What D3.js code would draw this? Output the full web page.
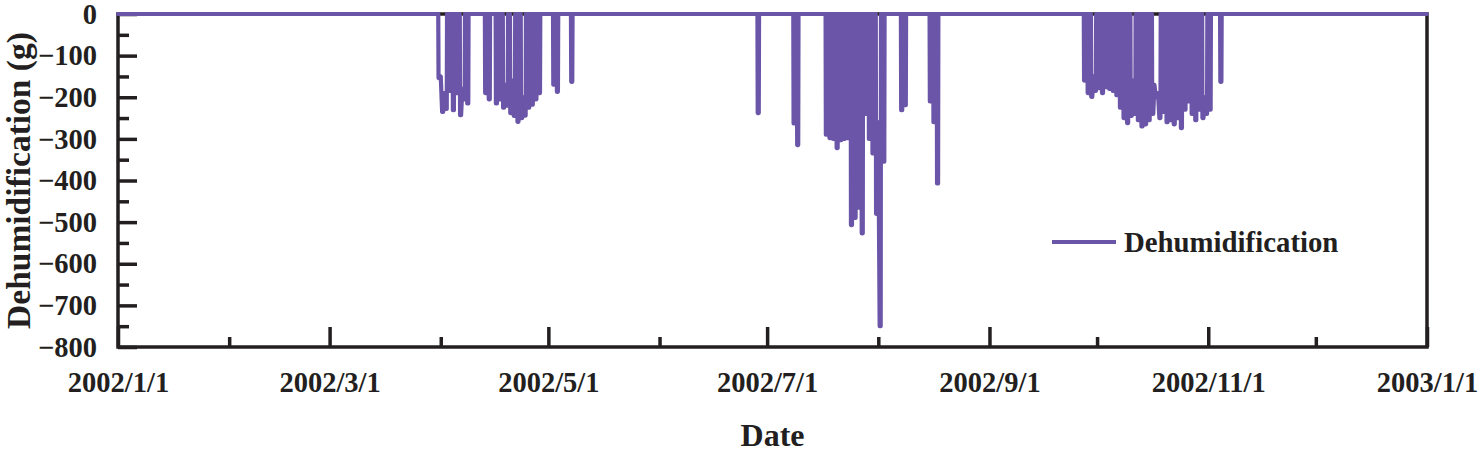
<!DOCTYPE html>
<html>
<head>
<meta charset="utf-8">
<script src="https://cdn.jsdelivr.net/npm/d3@7"></script>
<style>
  body { margin: 0; background: #fff; }
  text { font-family: "Liberation Serif", "Times New Roman", serif; font-weight: bold; fill: #231f20; }
</style>
</head>
<body>
<svg id="chart" width="1478" height="454"></svg>
<script>
// daily dehumidification peaks (g), one value per day from the start date, 0 = off
var springStart = "2002-03-31";
var springValues = [-154, -235, -228, -185, -231, -190, -243, -205, -215, 0, 0, 0, 0, -190, -205, 0,
  -215, -205, -225, -220, -238, -245, -259, -250, -244, -225, -218, -205, -190, 0, 0, 0, -170, -187, 0, 0, 0, -163];

var summerStart = "2002-06-28";
var summerValues = [-238, 0, 0, 0, 0, 0, 0, 0, 0, 0, -263, -315, 0, 0, 0, 0, 0, 0, 0,
  -290, -298, -300, -322, -303, -300, -298, -507, -490, -465, -527, -240, -300, -335, -480, -750, -355,
  0, 0, 0, 0, -231, -219, 0, 0, 0, 0, 0, 0, -210, -260, -407];

var autumnStart = "2002-09-27";
var autumnValues = [-160, -190, -199, -185, -178, -190, -176, -180, -185, -195, -225, -250, -262, -245,
  -240, -255, -270, -265, -255, -240, -200, -250, -235, -260, -255, -265, -250, -274, -230, -210,
  -240, -255, -230, -250, -240, -230, 0, 0, -163];

// nights when the unit kept running (line does not go back to 0)
var nightDates = ["2002-03-31", "2002-04-01", "2002-04-06", "2002-04-18", "2002-04-20", "2002-04-23",
  "2002-07-31", "2002-09-29", "2002-10-10", "2002-10-16", "2002-10-17", "2002-10-30"];
var nightValues = [-150, -190, -180, -170, -160, -200, -260, -150, -160, -170, -190, -200];

var xTickLabels = ["2002/1/1", "2002/3/1", "2002/5/1", "2002/7/1", "2002/9/1", "2002/11/1", "2003/1/1"];
var yTicks = [0, -100, -200, -300, -400, -500, -600, -700, -800];
var yMinorTicks = [-50, -150, -250, -350, -450, -550, -650, -750];

var purple = "#6a55a8";
var ink = "#231f20";

var svg = d3.select("#chart");
var plotLeft = 118, plotRight = 1427, plotTop = 14, plotBottom = 347;

var parseDay = d3.utcParse("%Y-%m-%d");
var parseTick = d3.utcParse("%Y/%m/%d");
var fmtDay = d3.utcFormat("%Y-%m-%d");

var majorDates = xTickLabels.map(parseTick);
var minorDates = d3.utcMonth.range(majorDates[0], majorDates[majorDates.length - 1])
  .filter(function(d) { return d.getUTCMonth() % 2 === 1; });

var x = d3.scaleUtc()
  .domain([majorDates[0], majorDates[majorDates.length - 1]])
  .range([plotLeft, plotRight]);

var y = d3.scaleLinear()
  .domain([-800, 0])
  .range([plotBottom, plotTop]);

var nightMap = new Map();
nightDates.forEach(function(d, i) { nightMap.set(d, nightValues[i]); });

function dayAt(start, offset) {
  return new Date(+start + offset * 864e5);
}

var seasons = [
  { start: springStart, values: springValues },
  { start: summerStart, values: summerValues },
  { start: autumnStart, values: autumnValues }
];

var points = [[x.domain()[0], 0]];
seasons.forEach(function(s) {
  var start = parseDay(s.start);
  var running = false;
  s.values.forEach(function(v, i) {
    if (v === 0) return;
    var key = fmtDay(dayAt(start, i));
    if (!running) points.push([dayAt(start, i + 0.3), 0]);
    points.push([dayAt(start, i + 0.38), v]);
    points.push([dayAt(start, i + 0.67), v]);
    if (nightMap.has(key)) {
      points.push([dayAt(start, i + 1), nightMap.get(key)]);
      running = true;
    } else {
      points.push([dayAt(start, i + 0.75), 0]);
      running = false;
    }
  });
});
points.push([x.domain()[1], 0]);

// frame
svg.append("rect")
  .attr("x", plotLeft).attr("y", plotTop)
  .attr("width", plotRight - plotLeft).attr("height", plotBottom - plotTop)
  .attr("fill", "none").attr("stroke", ink).attr("stroke-width", 3.5);

// axes, ticks pointing inside
svg.append("g")
  .attr("transform", "translate(0," + plotBottom + ")")
  .call(d3.axisBottom(x)
    .tickValues(majorDates)
    .tickSize(-20)
    .tickPadding(25)
    .tickFormat(function(d, i) { return xTickLabels[i]; }));

svg.append("g")
  .attr("transform", "translate(0," + plotBottom + ")")
  .call(d3.axisBottom(x).tickValues(minorDates).tickSize(-10).tickFormat(""));

svg.append("g")
  .attr("transform", "translate(" + plotLeft + ",0)")
  .call(d3.axisLeft(y).tickValues(yTicks).tickSize(-19).tickPadding(21));

svg.append("g")
  .attr("transform", "translate(" + plotLeft + ",0)")
  .call(d3.axisLeft(y).tickValues(yMinorTicks).tickSize(-11).tickFormat(""));

svg.selectAll(".domain").remove();
svg.selectAll(".tick line").attr("stroke", ink).attr("stroke-width", 3.5);
svg.selectAll(".tick text")
  .attr("fill", ink)
  .style("font-size", "28.5px")
  .style("font-family", "'Liberation Serif', 'Times New Roman', serif")
  .style("font-weight", "bold");

// data line
var line = d3.line()
  .x(function(d) { return x(d[0]); })
  .y(function(d) { return y(d[1]); });

svg.append("path")
  .datum(points)
  .attr("d", line)
  .attr("fill", "none")
  .attr("stroke", purple)
  .attr("stroke-width", 4.2)
  .attr("stroke-linejoin", "round")
  .attr("stroke-linecap", "round");

// titles
svg.append("text")
  .attr("x", (plotLeft + plotRight) / 2).attr("y", 446)
  .attr("text-anchor", "middle")
  .style("font-size", "32px")
  .text("Date");

svg.append("text")
  .attr("transform", "translate(30," + (plotTop + plotBottom) / 2 + ") rotate(-90)")
  .attr("text-anchor", "middle")
  .style("font-size", "33.5px")
  .text("Dehumidification (g)");

// legend
svg.append("line")
  .attr("x1", 1052).attr("x2", 1116)
  .attr("y1", 242).attr("y2", 242)
  .attr("stroke", purple).attr("stroke-width", 4);

svg.append("text")
  .attr("x", 1124).attr("y", 252)
  .style("font-size", "28.8px")
  .text("Dehumidification");
</script>
</body>
</html>
